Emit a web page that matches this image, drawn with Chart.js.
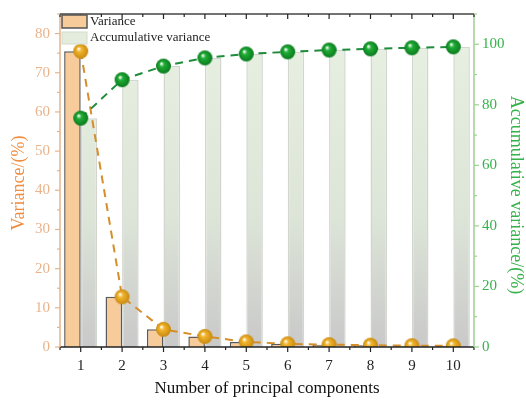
<!DOCTYPE html>
<html><head><meta charset="utf-8">
<script src="https://cdn.jsdelivr.net/npm/chart.js@4/dist/chart.umd.min.js"></script>
<style>html,body{margin:0;padding:0;background:#fff}#wrap{width:526px;height:401px;position:relative}</style>
</head><body><div id="wrap"><canvas id="c" width="526" height="401"></canvas></div>
<script>
const categories = ['1','2','3','4','5','6','7','8','9','10'];
const variance = [75.5, 12.8, 4.5, 2.7, 1.3, 0.8, 0.6, 0.45, 0.35, 0.3];
const accumulative = [75.6, 88.3, 92.8, 95.5, 96.8, 97.5, 98.1, 98.5, 98.85, 99.15];
const leftTickValues = [0,10,20,30,40,50,60,70,80];
const rightTickValues = [0,20,40,60,80,100];
const xTitle = 'Number of principal components';
const leftTitle = 'Variance/(%)';
const rightTitle = 'Accumulative variance/(%)';
const legendLabels = ['Variance','Accumulative variance'];

const SERIF = '"Liberation Serif","Times New Roman",serif';
const ORANGE_TXT = '#e9b48c';
const ORANGE_TITLE = '#f08c3e';
const GREEN_TXT = '#36b24a';
const GREEN_AXIS = '#9fcf93';
const ORANGE_AXIS = '#e6b48a';

function ball(base, dark, r){
  const s = r*2+2, c = document.createElement('canvas');
  c.width = s; c.height = s;
  const g = c.getContext('2d'), cx = s/2;
  const grad = g.createRadialGradient(cx - r*0.3, cx - r*0.35, r*0.05, cx, cx, r);
  grad.addColorStop(0, '#ffffff');
  grad.addColorStop(0.3, base);
  grad.addColorStop(1, dark);
  g.fillStyle = grad;
  g.beginPath(); g.arc(cx, cx, r, 0, Math.PI*2); g.fill();
  return c;
}
const orangeBall = ball('#f2b52c', '#c98a10', 7.5);
const greenBall = ball('#1fae35', '#0b7a1e', 7.5);

function accGradient(ctx){
  const ch = ctx.chart, a = ch.chartArea;
  if (!a) return '#e2ecdc';
  const g = ch.ctx.createLinearGradient(0, a.top, 0, a.bottom);
  g.addColorStop(0, '#e8f1e2');
  g.addColorStop(0.6, '#dde5d8');
  g.addColorStop(1, '#c9c9c9');
  return g;
}

const framePlugin = {
  id: 'frame',
  afterDraw(chart){
    const {ctx, chartArea: a, scales} = chart;
    const x = scales.x, y = scales.y, y1 = scales.y1;
    ctx.save();
    ctx.lineWidth = 1.5;
    ctx.strokeStyle = '#222';
    ctx.beginPath(); ctx.moveTo(a.left, a.bottom); ctx.lineTo(a.right, a.bottom); ctx.stroke();
    ctx.strokeStyle = '#444';
    ctx.beginPath(); ctx.moveTo(a.left, a.top); ctx.lineTo(a.right, a.top); ctx.stroke();
    ctx.strokeStyle = ORANGE_AXIS;
    ctx.beginPath(); ctx.moveTo(a.left, a.top); ctx.lineTo(a.left, a.bottom); ctx.stroke();
    ctx.strokeStyle = GREEN_AXIS;
    ctx.beginPath(); ctx.moveTo(a.right, a.top); ctx.lineTo(a.right, a.bottom); ctx.stroke();
    ctx.lineWidth = 1.2;
    ctx.strokeStyle = '#222';
    const step = (a.right - a.left) / categories.length;
    categories.forEach((c, i) => {
      const px = x.getPixelForValue(i);
      ctx.beginPath(); ctx.moveTo(px, a.bottom); ctx.lineTo(px, a.bottom + 5); ctx.stroke();
      ctx.beginPath(); ctx.moveTo(px, a.top); ctx.lineTo(px, a.top + 5); ctx.stroke();
    });
    for (let i = 0; i <= categories.length; i++) {
      const px = a.left + i*step;
      ctx.beginPath(); ctx.moveTo(px, a.bottom); ctx.lineTo(px, a.bottom + 3); ctx.stroke();
      ctx.beginPath(); ctx.moveTo(px, a.top); ctx.lineTo(px, a.top + 3); ctx.stroke();
    }
    ctx.strokeStyle = ORANGE_AXIS;
    for (let v = 0; v <= 85; v += 5) {
      const py = y.getPixelForValue(v);
      const len = v % 10 === 0 ? 5 : 3;
      ctx.beginPath(); ctx.moveTo(a.left, py); ctx.lineTo(a.left - len, py); ctx.stroke();
    }
    ctx.strokeStyle = GREEN_AXIS;
    for (let v = 0; v <= 110; v += 10) {
      const py = y1.getPixelForValue(v);
      const len = v % 20 === 0 ? 5 : 3;
      ctx.beginPath(); ctx.moveTo(a.right, py); ctx.lineTo(a.right + len, py); ctx.stroke();
    }
    ctx.textAlign = 'center'; ctx.textBaseline = 'middle';
    ctx.font = '17px ' + SERIF;
    ctx.fillStyle = '#111';
    ctx.fillText(xTitle, (a.left + a.right)/2, 389);
    ctx.font = '18px ' + SERIF;
    ctx.fillStyle = ORANGE_TITLE;
    ctx.save(); ctx.translate(19, 183); ctx.rotate(-Math.PI/2); ctx.fillText(leftTitle, 0, 0); ctx.restore();
    ctx.fillStyle = GREEN_TXT;
    ctx.save(); ctx.translate(516, 195); ctx.rotate(Math.PI/2); ctx.fillText(rightTitle, 0, 0); ctx.restore();
    const lx = a.left + 2, ly = a.top + 1;
    ctx.fillStyle = '#f8cb9a'; ctx.strokeStyle = '#555'; ctx.lineWidth = 1.5;
    ctx.fillRect(lx, ly, 25, 13); ctx.strokeRect(lx, ly, 25, 13);
    ctx.fillStyle = '#e3ecdd'; ctx.strokeStyle = '#d4dccf'; ctx.lineWidth = 1;
    ctx.fillRect(lx, ly + 17, 25, 12); ctx.strokeRect(lx, ly + 17, 25, 12);
    ctx.fillStyle = '#222'; ctx.textAlign = 'left'; ctx.font = '13px ' + SERIF;
    ctx.fillText(legendLabels[0], lx + 28, ly + 7);
    ctx.fillText(legendLabels[1], lx + 28, ly + 23);
    ctx.restore();
  }
};

new Chart(document.getElementById('c'), {
  type: 'bar',
  data: {
    labels: categories,
    datasets: [
      { type: 'line', label: 'Variance points', data: variance, yAxisID: 'y',
        borderColor: '#d68e2a', borderWidth: 2, borderDash: [8, 6], fill: false, tension: 0,
        pointStyle: orangeBall, pointRadius: 7, pointHoverRadius: 7, order: 1,
        clip: { left: 12, top: 12, right: 12, bottom: 0 } },
      { type: 'line', label: 'Accumulative points', data: accumulative, yAxisID: 'y1',
        borderColor: '#1f8c3c', borderWidth: 2, borderDash: [8, 6], fill: false, tension: 0,
        pointStyle: greenBall, pointRadius: 7, pointHoverRadius: 7, order: 0,
        clip: 12 },
      { label: legendLabels[0], data: variance, yAxisID: 'y',
        backgroundColor: '#f8cb9a', borderColor: '#5a5a5a', borderWidth: 1.5,
        barPercentage: 1.0, categoryPercentage: 0.8, order: 3 },
      { label: legendLabels[1], data: accumulative, yAxisID: 'y1',
        backgroundColor: accGradient, borderColor: '#d2d6cf', borderWidth: 1.5,
        barPercentage: 1.0, categoryPercentage: 0.8, order: 4 }
    ]
  },
  options: {
    responsive: false,
    animation: false,
    layout: { padding: { top: 14, left: 0, right: 0, bottom: 0 } },
    plugins: { legend: { display: false }, tooltip: { enabled: false } },
    scales: {
      x: {
        offset: true,
        grid: { display: false },
        border: { display: false },
        ticks: { color: '#222', font: { family: SERIF, size: 15 }, padding: 2, maxRotation: 0 },
        afterFit(s){ s.height = 54; }
      },
      y: {
        position: 'left', min: 0, max: 85,
        grid: { display: false }, border: { display: false },
        ticks: { stepSize: 10, color: ORANGE_TXT, font: { family: SERIF, size: 15 }, padding: 2 },
        afterBuildTicks(s){ s.ticks = leftTickValues.map(v => ({ value: v })); },
        afterFit(s){ s.width = 60; }
      },
      y1: {
        position: 'right', min: 0, max: 110,
        grid: { display: false }, border: { display: false },
        ticks: { stepSize: 20, color: GREEN_TXT, font: { family: SERIF, size: 15 }, padding: 0 },
        afterBuildTicks(s){ s.ticks = rightTickValues.map(v => ({ value: v })); },
        afterFit(s){ s.width = 52; }
      }
    }
  },
  plugins: [framePlugin]
});
</script>
</body></html>
